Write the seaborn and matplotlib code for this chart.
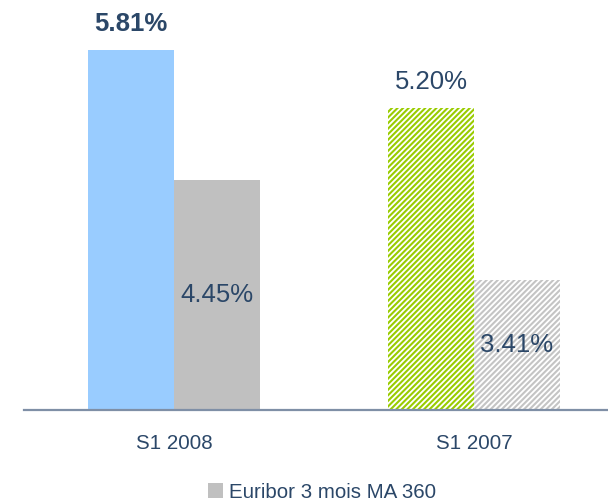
import matplotlib.pyplot as plt
import pandas as pd
import seaborn as sns
from matplotlib.patches import Patch


PERIODS = ["S1 2008", "S1 2007"]
SERIES = ["Taux moyen", "Euribor 3 mois MA 360"]
RATE_VALUES = [5.81, 5.20]
EURIBOR_VALUES = [4.45, 3.41]
VALUE_LABELS = ["5.81%", "5.20%", "4.45%", "3.41%"]

BLUE = "#99CCFF"
GREEN = "#99CC00"
GREY = "#C0C0C0"
GREY_HATCH = "#C4C4C4"
NAVY = "#2B4768"
AXIS_COLOR = "#7F8FA6"

Y_MIN = 2.045
Y_MAX = 6.334


def build_frame() -> pd.DataFrame:
    rows = []
    for period, rate in zip(PERIODS, RATE_VALUES):
        rows.append({"period": period, "series": SERIES[0], "value": rate})
    for period, euribor in zip(PERIODS, EURIBOR_VALUES):
        rows.append({"period": period, "series": SERIES[1], "value": euribor})
    return pd.DataFrame(rows)


def style_bars(ax) -> None:
    rate_bars = ax.containers[0]
    euribor_bars = ax.containers[1]

    # 2008: plain fills
    rate_bars[0].set_facecolor(BLUE)
    euribor_bars[0].set_facecolor(GREY)
    rate_bars[0].set_linewidth(0)
    euribor_bars[0].set_linewidth(0)

    # 2007: striped fills
    for bar, colour in [(rate_bars[1], GREEN), (euribor_bars[1], GREY_HATCH)]:
        bar.set_facecolor("white")
        bar.set_edgecolor(colour)
        bar.set_linewidth(0)
        bar.set_hatch("//////")


def add_labels(ax) -> None:
    rate_bars = ax.containers[0]
    euribor_bars = ax.containers[1]

    for i, bar in enumerate(rate_bars):
        x = bar.get_x() + bar.get_width() / 2
        ax.annotate(
            VALUE_LABELS[i],
            xy=(x, bar.get_height()),
            xytext=(0, 19),
            textcoords="offset points",
            ha="center",
            va="center",
            fontsize=18.5,
            fontweight="bold" if i == 0 else "normal",
            color=NAVY,
        )

    for i, bar in enumerate(euribor_bars):
        x = bar.get_x() + bar.get_width() / 2
        y = (Y_MIN + bar.get_height()) / 2
        ax.text(
            x,
            y,
            VALUE_LABELS[2 + i],
            ha="center",
            va="center",
            fontsize=18.5,
            color=NAVY,
        )


if __name__ == "__main__":
    sns.set_style("white")
    plt.rcParams["font.family"] = ["Liberation Sans", "DejaVu Sans"]
    plt.rcParams["hatch.linewidth"] = 1.5

    df = build_frame()

    fig = plt.figure(figsize=(6.08, 5.04), dpi=100)
    ax = fig.add_axes([24 / 608, 94 / 504, 584 / 608, 410 / 504])

    sns.barplot(
        data=df,
        x="period",
        y="value",
        hue="series",
        hue_order=SERIES,
        order=PERIODS,
        palette=[BLUE, GREY],
        width=0.573,
        gap=0,
        saturation=1,
        legend=False,
        ax=ax,
    )

    style_bars(ax)
    add_labels(ax)

    ax.set_xlim(-0.5, 1.4467)
    ax.set_ylim(Y_MIN, Y_MAX)
    ax.set_xlabel("")
    ax.set_ylabel("")
    ax.set_yticks([])
    ax.tick_params(axis="x", length=0, pad=17, labelsize=14.8, labelcolor=NAVY)

    for side in ["top", "right", "left"]:
        ax.spines[side].set_visible(False)
    ax.spines["bottom"].set_color(AXIS_COLOR)
    ax.spines["bottom"].set_linewidth(1.6)

    handle = Patch(facecolor=GREY, edgecolor="none")
    fig.legend(
        [handle],
        [SERIES[1]],
        loc="center",
        bbox_to_anchor=(322 / 608, 1 - 492 / 504),
        frameon=False,
        fontsize=14.8,
        labelcolor=NAVY,
        handlelength=0.75,
        handleheight=0.75,
        handletextpad=0.3,
    )

    fig.savefig("out.png", dpi=100)
    plt.close(fig)
